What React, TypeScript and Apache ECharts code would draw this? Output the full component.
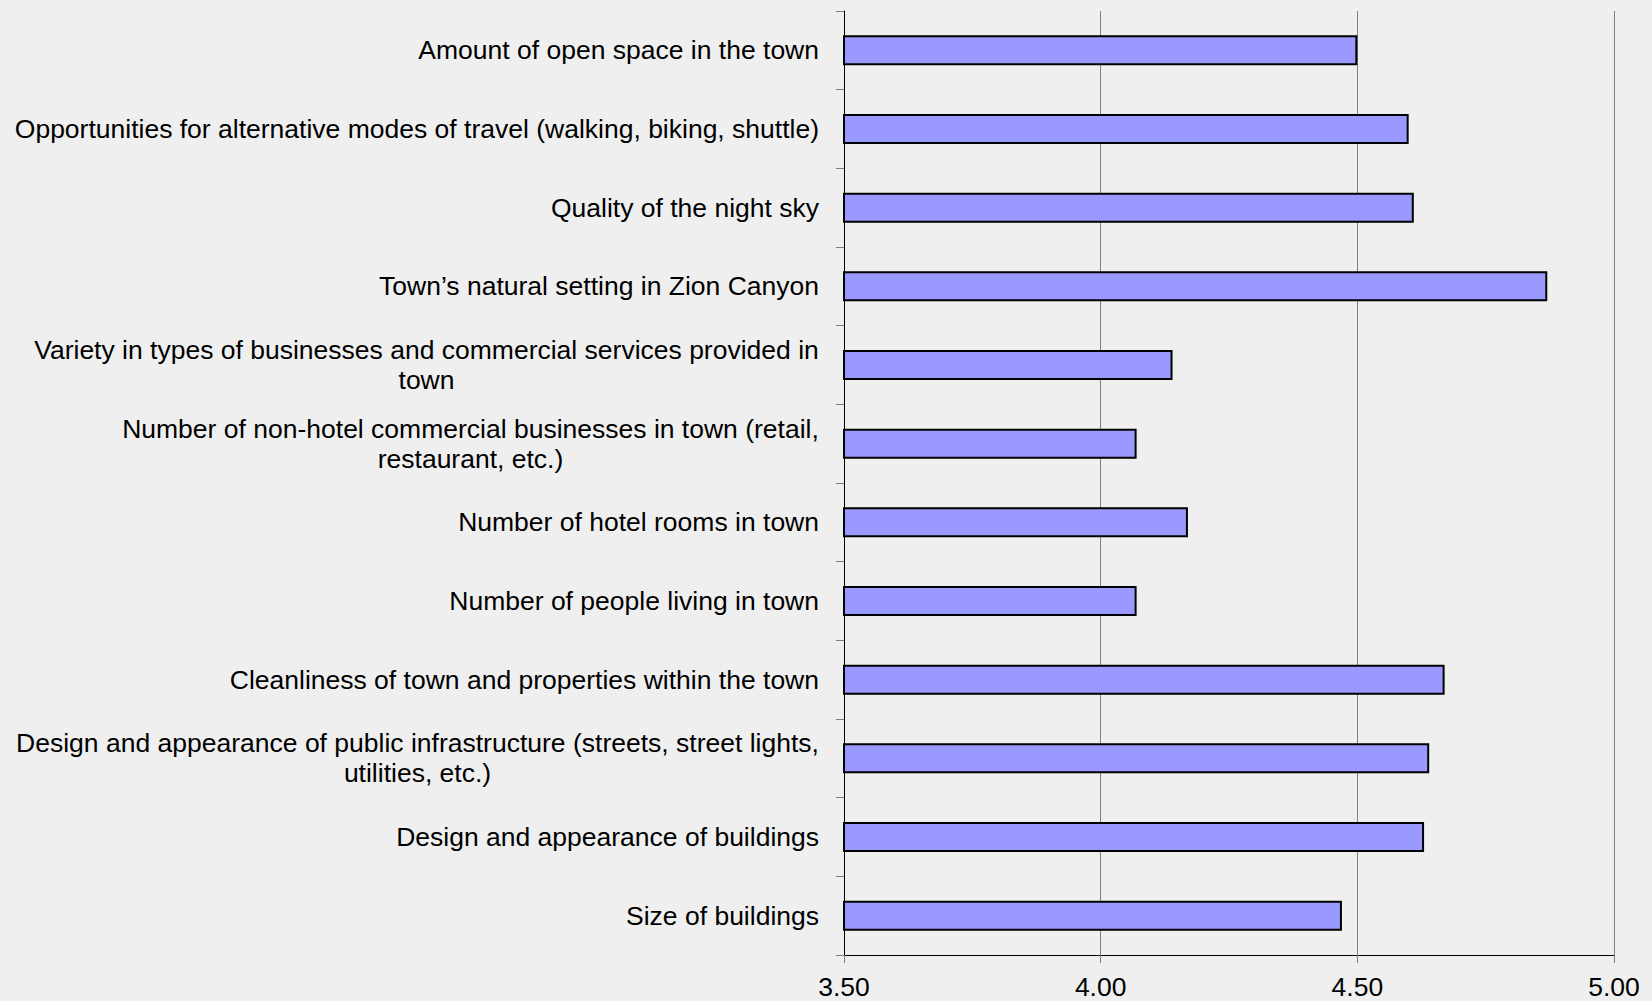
import React, { useEffect, useRef } from "react";
import * as echarts from "echarts";

const categories = [
  "Amount of open space in the town",
  "Opportunities for alternative modes of travel (walking, biking, shuttle)",
  "Quality of the night sky",
  "Town\u2019s natural setting in Zion Canyon",
  "Variety in types of businesses and commercial services provided in\ntown",
  "Number of non-hotel commercial businesses in town (retail,\nrestaurant, etc.)",
  "Number of hotel rooms in town",
  "Number of people living in town",
  "Cleanliness of town and properties within the town",
  "Design and appearance of public infrastructure (streets, street lights,\nutilities, etc.)",
  "Design and appearance of buildings",
  "Size of buildings",
];

const values = [4.5, 4.6, 4.61, 4.87, 4.14, 4.07, 4.17, 4.07, 4.67, 4.64, 4.63, 4.47];

const axisMin = 3.5;
const axisMax = 5.0;
const axisStep = 0.5;

const FONT_SIZE = 26.5;
const FONT_FAMILY = "Liberation Sans, Arial, sans-serif";

export default function App() {
  const ref = useRef<HTMLDivElement>(null);
  useEffect(() => {
    document.body.style.margin = "0";
    const ctx = document.createElement("canvas").getContext("2d")!;
    ctx.font = `${FONT_SIZE}px ${FONT_FAMILY}`;
    const rich: Record<string, any> = {
      t: { fontSize: FONT_SIZE, fontFamily: FONT_FAMILY, color: "#000", lineHeight: 30 },
    };
    const labelMap: Record<string, string> = {};
    categories.forEach((c, i) => {
      const lines = c.split("\n");
      if (lines.length > 1) {
        const w = Math.max(...lines.map((l) => ctx.measureText(l).width));
        const key = "c" + i;
        rich[key] = {
          fontSize: FONT_SIZE,
          fontFamily: FONT_FAMILY,
          color: "#000",
          lineHeight: 30,
          width: Math.ceil(w),
          align: "center",
        };
        labelMap[c] = lines.map((l) => `{${key}|${l}}`).join("\n");
      } else {
        labelMap[c] = `{t|${c}}`;
      }
    });

    const chart = echarts.init(ref.current!, undefined, { renderer: "svg" });
    chart.setOption({
      animation: false,
      backgroundColor: "#efefef",
      textStyle: { fontFamily: FONT_FAMILY },
      grid: { left: 844, right: 38, top: 11, bottom: 46, containLabel: false },
      xAxis: {
        type: "value",
        min: axisMin,
        max: axisMax,
        interval: axisStep,
        axisLine: { show: true, lineStyle: { color: "#000", width: 1 } },
        axisTick: { show: true, length: 8, lineStyle: { color: "#808080" } },
        splitLine: { show: true, lineStyle: { color: "#808080", width: 1 } },
        axisLabel: {
          color: "#000",
          fontSize: FONT_SIZE,
          margin: 18,
          formatter: (v: number) => v.toFixed(2),
        },
      },
      yAxis: {
        type: "category",
        data: categories,
        inverse: true,
        axisLine: { show: true, lineStyle: { color: "#000", width: 1 } },
        axisTick: { show: true, length: 8, lineStyle: { color: "#808080" } },
        axisLabel: {
          color: "#000",
          fontSize: FONT_SIZE,
          margin: 25,
          align: "right",
          lineHeight: 30,
          interval: 0,
          formatter: (v: string) => labelMap[v] ?? v,
          rich,
        },
      },
      series: [
        {
          type: "bar",
          data: values,
          barWidth: 30,
          itemStyle: { color: "#9999ff", borderColor: "#000", borderWidth: 2 },
        },
      ],
    });
    return () => chart.dispose();
  }, []);
  return <div ref={ref} style={{ position: "fixed", left: 0, top: 0, width: 1652, height: 1001 }} />;
}
